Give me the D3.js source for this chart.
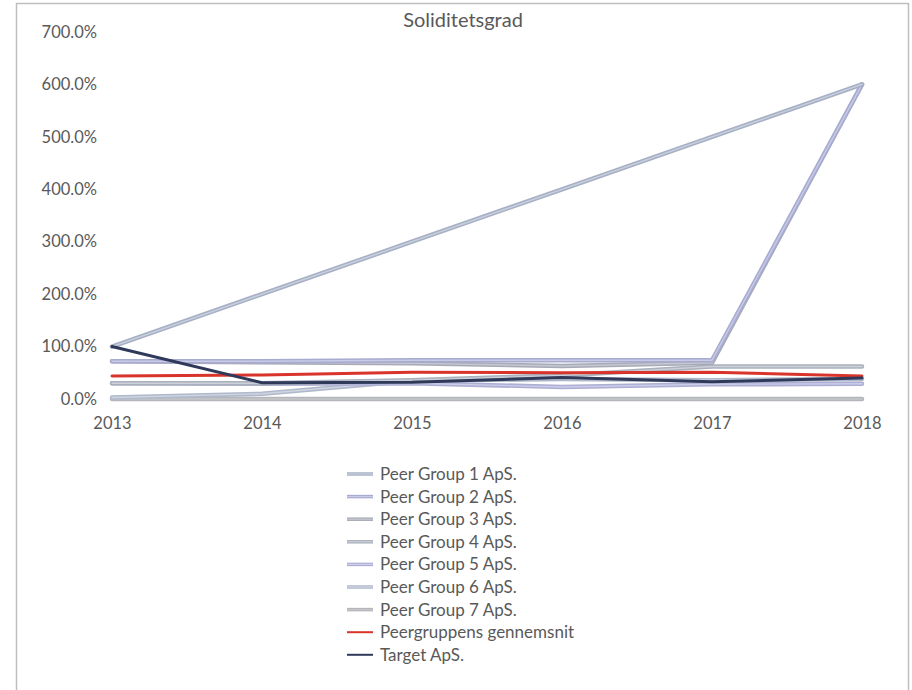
<!DOCTYPE html>
<html>
<head>
<meta charset="utf-8">
<script src="https://cdn.jsdelivr.net/npm/d3@7/dist/d3.min.js"></script>
<style>
  html, body { margin: 0; padding: 0; background: #fff; }
  svg { display: block; }
  text { font-family: Lato, "Open Sans", sans-serif; fill: #595959; }
</style>
</head>
<body>
<svg id="chart" width="912" height="690"></svg>
<script>
// Years on the x axis
const years = [2013, 2014, 2015, 2016, 2017, 2018];

// Equity ratio per company (percent)
const peer1 = [100, 200, 300, 400, 500, 600];
const peer2 = [72, 72, 74, 74, 74, 600];
const peer3 = [72, 70, 68, 63, 69, 600];
const peer4 = [30, 30, 36, 45, 62, 62];
const peer5 = [30, 29, 30, 23, 28, 29];
const peer6 = [3, 10, 35, 38, 36, 38];
const peer7 = [0, 0, 0, 0, 0, 0];
const peerAverage = [44, 46, 51, 50, 51, 44];
const target = [100, 31, 32, 41, 33, 40];

const seriesNames = [
  "Peer Group 1 ApS.", "Peer Group 2 ApS.", "Peer Group 3 ApS.", "Peer Group 4 ApS.",
  "Peer Group 5 ApS.", "Peer Group 6 ApS.", "Peer Group 7 ApS.",
  "Peergruppens gennemsnit", "Target ApS."
];
const seriesValues = [peer1, peer2, peer3, peer4, peer5, peer6, peer7, peerAverage, target];
const seriesColors = [
  "#a7b0c4", "#a8abd0", "#a6aab6", "#aab0bc", "#adaed4", "#b0b9cb", "#b4b6bb",
  "#d9342b", "#2f3a5a"
];
// lighter centre stripe of the peer lines
const innerColors = [
  "#c9d0de", "#c8cae6", "#c6c9d2", "#cbd0d9", "#cccde8", "#cfd6e2", "#c4c6ca",
  null, null
];
const seriesWidths = [4.5, 4.5, 4.5, 4.5, 4.5, 4.5, 4.5, 3, 3];

const yTicks = [0, 100, 200, 300, 400, 500, 600, 700];

const svg = d3.select("#chart");

// chart frame
svg.append("rect")
  .attr("x", 16.5).attr("y", 3.5)
  .attr("width", 892).attr("height", 720)
  .attr("fill", "none").attr("stroke", "#bfbfbf").attr("stroke-width", 1.5);

const x = d3.scalePoint().domain(years).range([112, 862]);
const y = d3.scaleLinear().domain([0, 700]).range([399, 32]);

// title
svg.append("text")
  .attr("x", 463).attr("y", 27)
  .attr("text-anchor", "middle")
  .style("font-size", "20px")
  .text("Soliditetsgrad");

// y axis labels
const yAxis = d3.axisLeft(y)
  .tickValues(yTicks)
  .tickSize(0)
  .tickPadding(0)
  .tickFormat(d => d3.format(".1f")(d) + "%");
const gy = svg.append("g").attr("transform", "translate(97,0)").call(yAxis);
gy.select(".domain").remove();
gy.selectAll("text")
  .style("font-size", "16.5px")
  .style("font-family", "Lato, 'Open Sans', sans-serif")
  .attr("fill", "#595959");

// x axis labels
const xAxis = d3.axisBottom(x).tickSize(0).tickPadding(0).tickFormat(d3.format("d"));
const gx = svg.append("g").attr("transform", "translate(0,417)").call(xAxis);
gx.select(".domain").remove();
gx.selectAll("text")
  .style("font-size", "16.5px")
  .style("font-family", "Lato, 'Open Sans', sans-serif")
  .attr("fill", "#595959");

// lines
const line = d3.line()
  .x((d, i) => x(years[i]))
  .y(d => y(d));

const order = [6, 5, 4, 3, 2, 1, 0, 7, 8];
const lines = svg.append("g");
order.forEach(i => {
  lines.append("path")
    .attr("d", line(seriesValues[i]))
    .attr("fill", "none")
    .attr("stroke", seriesColors[i])
    .attr("stroke-width", seriesWidths[i])
    .attr("stroke-linecap", "round")
    .attr("stroke-linejoin", "round");
  if (innerColors[i]) {
    lines.append("path")
      .attr("d", line(seriesValues[i]))
      .attr("fill", "none")
      .attr("stroke", innerColors[i])
      .attr("stroke-width", 1.4)
      .attr("stroke-linecap", "round")
      .attr("stroke-linejoin", "round");
  }
});

// legend
const legend = svg.append("g");
const rowH = 22.6;
seriesNames.forEach((name, i) => {
  const cy = 474 + i * rowH;
  legend.append("line")
    .attr("x1", 347).attr("x2", 373)
    .attr("y1", cy).attr("y2", cy)
    .attr("stroke", seriesColors[i])
    .attr("stroke-width", seriesWidths[i] - 1);
  if (innerColors[i]) {
    legend.append("line")
      .attr("x1", 347).attr("x2", 373)
      .attr("y1", cy).attr("y2", cy)
      .attr("stroke", innerColors[i])
      .attr("stroke-width", 1.2);
  }
  legend.append("text")
    .attr("x", 380).attr("y", cy)
    .attr("dy", "0.35em")
    .style("font-size", "17px")
    .text(name);
});
</script>
</body>
</html>
